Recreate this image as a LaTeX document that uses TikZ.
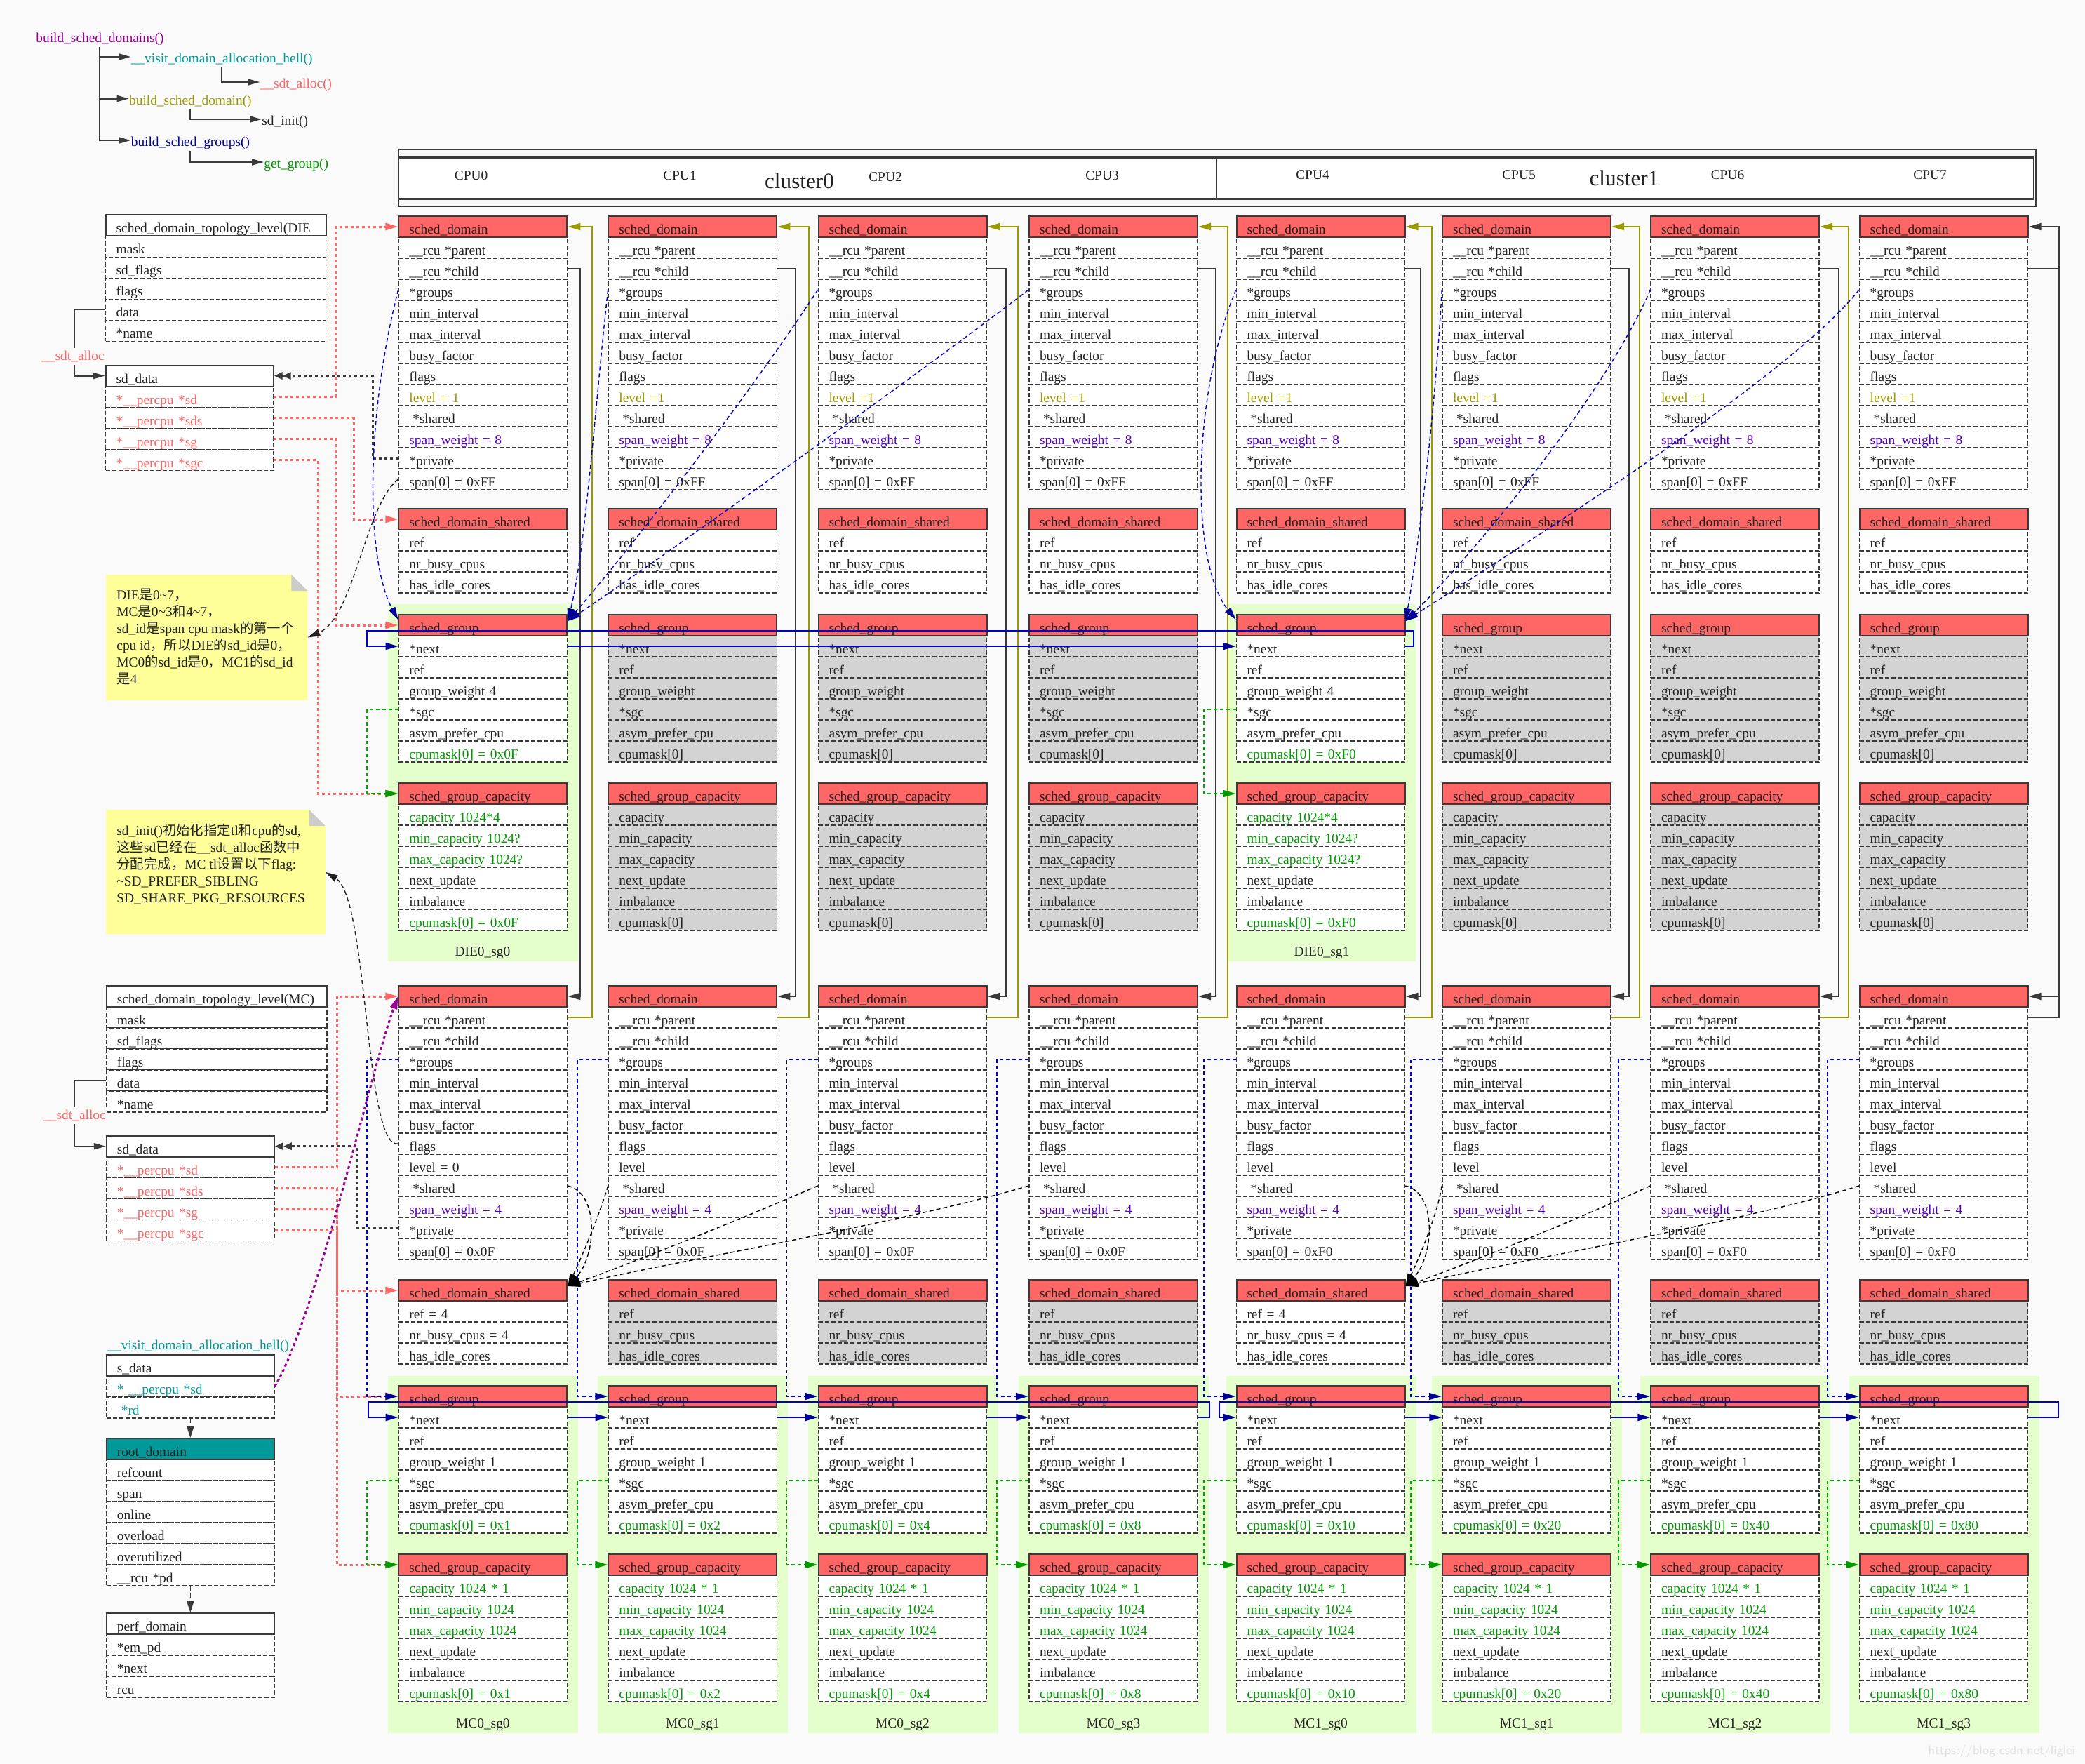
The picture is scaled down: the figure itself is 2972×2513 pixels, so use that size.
\documentclass[tikz,border=0pt]{standalone}
\usepackage{fontspec}
\setmainfont{Liberation Serif}
\newfontfamily\cjk{Noto Sans CJK SC}
\usetikzlibrary{arrows.meta}
\definecolor{bgc}{HTML}{FAFAFA}
\definecolor{hdrc}{HTML}{FF6666}
\definecolor{grayf}{HTML}{D3D3D3}
\definecolor{dk}{HTML}{3A3A3A}
\definecolor{fc}{HTML}{222222}
\definecolor{ol}{HTML}{999900}
\definecolor{pu}{HTML}{5500BB}
\definecolor{gr}{HTML}{009900}
\definecolor{gl}{HTML}{00AA00}
\definecolor{sa}{HTML}{FF6666}
\definecolor{te}{HTML}{009999}
\definecolor{nv}{HTML}{000099}
\definecolor{bl}{HTML}{0000CC}
\definecolor{mg}{HTML}{990099}
\definecolor{lg}{HTML}{E5FFCC}
\definecolor{nt}{HTML}{FFFF99}
\definecolor{fold}{HTML}{CCCCCC}
\newcommand\fs{\fontsize{9.7pt}{12pt}\selectfont}
\newcommand\zh[1]{{\cjk #1}}
\tikzset{
  fld/.style={draw=dk, dash pattern=on 3pt off 1.5pt, line width=0.75pt, minimum height=15pt, inner xsep=7.5pt, inner ysep=0pt, text height=10.6pt, text depth=0pt, align=left, font=\fs},
  hdr/.style={draw=dk, line width=1pt, minimum height=15pt, inner xsep=7.5pt, inner ysep=0pt, text height=10.6pt, text depth=0pt, align=left, font=\fs, text=fc},
  tip/.style={-{Triangle[length=9pt,width=5pt]}},
  tree/.style={draw=dk, line width=1pt, -{Triangle[length=8.5pt,width=4.5pt]}},
  olv/.style={draw=ol, line width=1pt, tip},
  chl/.style={draw=dk, line width=0.9pt, tip},
  reddot/.style={draw=sa, line width=1.5pt, dash pattern=on 2pt off 2pt, tip},
  blkdot/.style={draw=dk, line width=1.5pt, dash pattern=on 2pt off 2pt, -{Triangle[length=6pt,width=5pt]Triangle[length=6pt,width=5pt]}},
  bdash/.style={draw=bl, line width=0.7pt, dash pattern=on 3pt off 2pt, -{Triangle[length=9pt,width=5pt,color=nv]}},
  bdashb/.style={draw=bl, line width=0.9pt, dash pattern=on 2.5pt off 2pt, -{Triangle[length=9pt,width=5pt,color=nv]}},
  gdash/.style={draw=gl, line width=0.9pt, dash pattern=on 2.5pt off 2pt, -{Triangle[length=9pt,width=5pt,color=gr]}},
  bnext/.style={draw=bl, line width=1pt, -{Triangle[length=9pt,width=5pt,color=nv]}},
  ndash/.style={draw=fc, line width=0.7pt, dash pattern=on 3pt off 2pt, tip},
  mdot/.style={draw=mg, line width=1.5pt, dash pattern=on 2pt off 2pt, tip},
  sdash/.style={draw=black, line width=0.7pt, dash pattern=on 3pt off 2pt, tip},
  ddash/.style={draw=dk, line width=0.8pt, dash pattern=on 3pt off 2pt, -{Triangle[length=8pt,width=5pt]}},
}
\newcommand\mkstruct[8]{%
  \pgfmathsetmacro\bw{#4/2}%
  \pgfmathsetmacro\tw{#4/2-15}%
  \pgfmathsetmacro\cx{#2+#4/2}%
  \foreach[count=\kk] \fcol/\ftxt in {#8}{%
    \node[fld,fill=#7,text=\fcol,minimum width=\bw pt,text width=\tw pt] (#1-\kk) at (\cx,#3+15+30*\kk) {\ftxt};
  }%
  \node[hdr,fill=#6,minimum width=\bw pt,text width=\tw pt] (#1-0) at (\cx,#3+15) {#5};
}
\begin{document}
\catcode`\_=12
\begin{tikzpicture}[x=0.5pt,y=-0.5pt,every node/.style={font=\fs}]
\fill[bgc] (0,0) rectangle (2972,2513);
\useasboundingbox (0,0) rectangle (2972,2513);

% ---------- call tree ----------
\node[anchor=west,inner sep=0,text=mg] (t0) at (51,55.4) {build_sched_domains()};
\node[anchor=west,inner sep=0,text=te] (t1) at (186.4,85) {__visit_domain_allocation_hell()};
\node[anchor=west,inner sep=0,text=sa] (t2) at (370.4,121) {__sdt_alloc()};
\node[anchor=west,inner sep=0,text=ol] (t3) at (183.7,144.5) {build_sched_domain()};
\node[anchor=west,inner sep=0,text=fc] (t4) at (373,174) {sd_init()};
\node[anchor=west,inner sep=0,text=nv] (t5) at (186.4,204) {build_sched_groups()};
\node[anchor=west,inner sep=0,text=gr] (t6) at (376,235) {get_group()};
\coordinate (tr) at (142.4,67);
\coordinate (s1) at (316,96.4);
\coordinate (s2) at (271.3,155.8);
\coordinate (s3) at (271.3,215);
\draw[tree] (tr) |- ([yshift=2pt]t1.west);
\draw[tree] (tr) |- ([yshift=2pt]t3.west);
\draw[tree] (tr) |- ([yshift=2pt]t5.west);
\draw[tree] (s1) |- ([yshift=2pt]t2.west);
\draw[tree] (s2) |- ([yshift=2pt]t4.west);
\draw[tree] (s3) |- ([yshift=2pt]t6.west);

% ---------- clusters ----------
\draw[dk,line width=1.3pt] (568,213) rectangle (2902,294);
\draw[dk,line width=1.3pt,fill=white] (568,224.5) rectangle (1734,283.5);
\draw[dk,line width=1.3pt,fill=white] (1734,224.5) rectangle (2899,283.5);
\foreach \i/\x/\y in {0/671.7/250,1/969/250,2/1262/252,3/1571/250,4/1871/249,5/2165/249,6/2462.5/249,7/2751/249}{
  \node[text=fc] (cpu\i) at (\x,\y) {CPU\i};
}
\node[text=fc,font=\fontsize{15.6pt}{18pt}\selectfont] (cl0) at (1139.5,258) {cluster0};
\node[text=fc,font=\fontsize{15.6pt}{18pt}\selectfont] (cl1) at (2315,254) {cluster1};

% ---------- green group backgrounds ----------
\fill[lg] (553,861) rectangle (824,1370);
\fill[lg] (1750,861) rectangle (2018,1370);
\node[text=fc] (dlab0) at (688,1358) {DIE0_sg0};
\node[text=fc] (dlab1) at (1884,1358) {DIE0_sg1};
\foreach \col/\X/\lab in {0/568.4/MC0_sg0,1/867.4/MC0_sg1,2/1166.5/MC0_sg2,3/1467/MC0_sg3,4/1762.5/MC1_sg0,5/2056/MC1_sg1,6/2353/MC1_sg2,7/2650.7/MC1_sg3}{
  \fill[lg] (\X-15,1961) rectangle (\X+256,2470);
  \node[text=fc] (mlab\col) at (\X+120,2458) {\lab};
}

% ---------- per-CPU structures ----------
\foreach \col/\X/\hx in {0/568.4/0x1,1/867.4/0x2,2/1166.5/0x4,3/1467/0x8,4/1762.5/0x10,5/2056/0x20,6/2353/0x40,7/2650.7/0x80}{
  \ifnum\col=0 \def\dlv{level = 1}\def\mlv{level = 0}\else\def\dlv{level =1}\def\mlv{level}\fi
  \ifnum\col<4 \def\msp{0x0F}\else\def\msp{0xF0}\fi
  \pgfmathtruncatemacro\act{(\col==0)||(\col==4)}
  \mkstruct{dsd\col}{\X}{308}{240}{sched_domain}{hdrc}{white}{fc/{__rcu *parent}, fc/{__rcu *child}, fc/{*groups}, fc/{min_interval}, fc/{max_interval}, fc/{busy_factor}, fc/{flags}, ol/{\dlv}, fc/{\hspace*{2.5pt}*shared}, pu/{span_weight = 8}, fc/{*private}, fc/{span[0] = 0xFF}}
  \mkstruct{dsds\col}{\X}{725}{240}{sched_domain_shared}{hdrc}{white}{fc/ref, fc/nr_busy_cpus, fc/has_idle_cores}
  \mkstruct{msd\col}{\X}{1405}{240}{sched_domain}{hdrc}{white}{fc/{__rcu *parent}, fc/{__rcu *child}, fc/{*groups}, fc/{min_interval}, fc/{max_interval}, fc/{busy_factor}, fc/{flags}, fc/{\mlv}, fc/{\hspace*{2.5pt}*shared}, pu/{span_weight = 4}, fc/{*private}, fc/{span[0] = \msp}}
  \ifnum\act=1
    \mkstruct{dsg\col}{\X}{876}{240}{sched_group}{hdrc}{white}{fc/{*next}, fc/ref, fc/{group_weight 4}, fc/{*sgc}, fc/asym_prefer_cpu, gr/{cpumask[0] = \msp}}
    \mkstruct{dsgc\col}{\X}{1116}{240}{sched_group_capacity}{hdrc}{white}{gr/{capacity 1024*4}, gr/{min_capacity 1024?}, gr/{max_capacity 1024?}, fc/next_update, fc/imbalance, gr/{cpumask[0] = \msp}}
    \mkstruct{msds\col}{\X}{1824}{240}{sched_domain_shared}{hdrc}{white}{fc/{ref = 4}, fc/{nr_busy_cpus = 4}, fc/has_idle_cores}
  \else
    \mkstruct{dsg\col}{\X}{876}{240}{sched_group}{hdrc}{grayf}{fc/{*next}, fc/ref, fc/group_weight, fc/{*sgc}, fc/asym_prefer_cpu, fc/{cpumask[0]}}
    \mkstruct{dsgc\col}{\X}{1116}{240}{sched_group_capacity}{hdrc}{grayf}{fc/capacity, fc/min_capacity, fc/max_capacity, fc/next_update, fc/imbalance, fc/{cpumask[0]}}
    \mkstruct{msds\col}{\X}{1824}{240}{sched_domain_shared}{hdrc}{grayf}{fc/ref, fc/nr_busy_cpus, fc/has_idle_cores}
  \fi
  \mkstruct{msg\col}{\X}{1975}{240}{sched_group}{hdrc}{white}{fc/{*next}, fc/ref, fc/{group_weight 1}, fc/{*sgc}, fc/asym_prefer_cpu, gr/{cpumask[0] = \hx}}
  \mkstruct{msgc\col}{\X}{2215}{240}{sched_group_capacity}{hdrc}{white}{gr/{capacity 1024 * 1}, gr/{min_capacity 1024}, gr/{max_capacity 1024}, fc/next_update, fc/imbalance, gr/{cpumask[0] = \hx}}
}

% ---------- left structures ----------
\mkstruct{tlD}{150.7}{306.3}{314}{sched_domain_topology_level(DIE}{white}{white}{fc/mask, fc/sd_flags, fc/flags, fc/data, fc/{*name}}
\mkstruct{sdD}{150.7}{520.6}{239}{sd_data}{white}{white}{sa/{*__percpu *sd}, sa/{*__percpu *sds}, sa/{*__percpu *sg}, sa/{*__percpu *sgc}}
\mkstruct{tlM}{151.8}{1405}{314}{sched_domain_topology_level(MC)}{white}{white}{fc/mask, fc/sd_flags, fc/flags, fc/data, fc/{*name}}
\mkstruct{sdM}{151.8}{1618.7}{239}{sd_data}{white}{white}{sa/{*__percpu *sd}, sa/{*__percpu *sds}, sa/{*__percpu *sg}, sa/{*__percpu *sgc}}
\node[anchor=west,inner sep=0,text=te] (vlab) at (153,1919) {__visit_domain_allocation_hell()};
\mkstruct{sdat}{151.8}{1931}{239}{s_data}{white}{white}{te/{* __percpu *sd}, te/{\hspace*{3pt}*rd}}
\mkstruct{rd}{151.8}{2050}{239}{root_domain}{te}{white}{fc/refcount, fc/span, fc/online, fc/overload, fc/overutilized, fc/{__rcu *pd}}
\mkstruct{pd}{151.8}{2299}{239}{perf_domain}{white}{white}{fc/{*em_pd}, fc/{*next}, fc/rcu}
\draw[ddash] (sdat-2.south) -- (rd-0.north);
\draw[ddash] (rd-6.south) -- (pd-0.north);

% sdt_alloc brackets
\coordinate (xs) at (105.7,0);
\draw[tree] (tlD-4.west) -| (xs |- sdD-0.west) -- (sdD-0.west);
\draw[tree] (tlM-4.west) -| (xs |- sdM-0.west) -- (sdM-0.west);
\node[fill=bgc,text=sa,inner xsep=1pt,inner ysep=2pt] (sa1) at (104,508) {__sdt_alloc};
\node[fill=bgc,text=sa,inner xsep=1pt,inner ysep=2pt] (sa2) at (106,1590) {__sdt_alloc};

% ---------- notes ----------
\node[minimum width=143.1pt,minimum height=89pt,inner sep=0] (note1) at (294.9,908.5) {};
\fill[nt] (note1.south west) -- (note1.north west) -- ([xshift=-11.5pt]note1.north east) -- ([yshift=-11.5pt]note1.north east) -- (note1.south east) -- cycle;
\fill[fold] ([xshift=-11.5pt]note1.north east) -- ([xshift=-11.5pt,yshift=-11.5pt]note1.north east) -- ([yshift=-11.5pt]note1.north east) -- cycle;
\node[anchor=north west,align=left,inner sep=0,text=fc] (note1t) at (166,839) {DIE\zh{是}0\textasciitilde 7\zh{，}\\MC\zh{是}0\textasciitilde 3\zh{和}4\textasciitilde 7\zh{，}\\sd_id\zh{是}span cpu mask\zh{的第一个}\\cpu id\zh{，所以}DIE\zh{的}sd_id\zh{是}0\zh{，}\\MC0\zh{的}sd_id\zh{是}0\zh{，}MC1\zh{的}sd_id\\\zh{是}4};
\node[minimum width=155.8pt,minimum height=88.25pt,inner sep=0] (note2) at (307.6,1242.75) {};
\fill[nt] (note2.south west) -- (note2.north west) -- ([xshift=-11.5pt]note2.north east) -- ([yshift=-11.5pt]note2.north east) -- (note2.south east) -- cycle;
\fill[fold] ([xshift=-11.5pt]note2.north east) -- ([xshift=-11.5pt,yshift=-11.5pt]note2.north east) -- ([yshift=-11.5pt]note2.north east) -- cycle;
\node[anchor=north west,align=left,inner sep=0,text=fc] (note2t) at (166,1174) {sd_init()\zh{初始化指定}tl\zh{和}cpu\zh{的}sd,\\\zh{这些}sd\zh{已经在}__sdt_alloc\zh{函数中}\\\zh{分配完成，}MC tl\zh{设置以下}flag:\\\textasciitilde SD_PREFER_SIBLING\\SD_SHARE_PKG_RESOURCES};

% ---------- parent / child links ----------
\foreach \i/\xo/\xc in {0/844/827,1/1152.7/1133.7,2/1451/1434,3/1750/1732.5,4/2040.7/2024.5,5/2336.8/2322,6/2634.5/2620.7}{
  \coordinate (po\i) at (\xo,0);
  \coordinate (pc\i) at (\xc,0);
  \draw[olv] (msd\i-1.east) -| (po\i |- dsd\i-0.east) -- (dsd\i-0.east);
  \draw[chl] (dsd\i-2.east) -| (pc\i |- msd\i-0.east) -- (msd\i-0.east);
}
\coordinate (pc7) at (2934.6,0);
\draw[chl] (dsd7-2.east) -| (pc7 |- msd7-0.east) -- (msd7-0.east);
\draw[chl] (msd7-1.east) -| (pc7 |- dsd7-0.east) -- (dsd7-0.east);

% ---------- sd_data pointers ----------
\coordinate (xa) at (478.6,0);
\coordinate (xb) at (504,0);
\coordinate (xc) at (453,0);
\coordinate (xm) at (480,0);
\coordinate (xp) at (531,0);
\coordinate (xq) at (509.5,0);
\draw[reddot] (sdD-1.east) -| (xa |- dsd0-0.west) -- (dsd0-0.west);
\draw[reddot] (sdD-2.east) -| (xb |- dsds0-0.west) -- (dsds0-0.west);
\draw[reddot] (sdD-3.east) -| (xa |- dsg0-0.west) -- (dsg0-0.west);
\draw[reddot] (sdD-4.east) -| (xc |- dsgc0-0.west) -- (dsgc0-0.west);
\draw[reddot] (sdM-1.east) -| (xm |- msd0-0.west) -- (msd0-0.west);
\draw[reddot] (sdM-2.east) -| (xm |- msds0-0.west) -- (msds0-0.west);
\draw[reddot] (sdM-3.east) -| (xm |- msg0-0.west) -- (msg0-0.west);
\draw[reddot] (sdM-4.east) -| (xm |- msgc0-0.west) -- (msgc0-0.west);
\draw[blkdot] (dsd0-11.west) -| (xp |- sdD-0.east) -- (sdD-0.east);
\draw[blkdot] (msd0-11.west) -| (xq |- sdM-0.east) -- (sdM-0.east);

% ---------- DIE groups ----------
\draw[bdash] (dsd0-3.west) .. controls (520,600) and (522,800) .. ([yshift=-4pt]dsg0-0.north west);
\draw[bdash] (dsd1-3.west) .. controls (850,560) and (835,780) .. ([yshift=-5pt]dsg0-0.north east);
\draw[bdash] (dsd2-3.west) .. controls (1070,560) and (900,780) .. ([yshift=-5pt]dsg0-0.north east);
\draw[bdash] (dsd3-3.west) .. controls (1300,540) and (950,790) .. ([yshift=-5pt]dsg0-0.north east);
\draw[bdash] (dsd4-3.west) .. controls (1700,560) and (1695,800) .. ([yshift=-4pt]dsg4-0.north west);
\draw[bdash] (dsd5-3.west) .. controls (2045,600) and (2020,790) .. ([yshift=-5pt]dsg4-0.north east);
\draw[bdash] (dsd6-3.west) .. controls (2290,560) and (2100,790) .. ([yshift=-5pt]dsg4-0.north east);
\draw[bdash] (dsd7-3.west) .. controls (2550,540) and (2150,790) .. ([yshift=-5pt]dsg4-0.north east);
\coordinate (gd0) at (523,0);
\coordinate (gd4) at (1716,0);
\draw[gdash] (dsg0-4.west) -| (gd0 |- dsgc0-0.west) -- (dsgc0-0.west);
\draw[gdash] (dsg4-4.west) -| (gd4 |- dsgc4-0.west) -- (dsgc4-0.west);
\coordinate (dnr) at (2015,899);
\coordinate (dnl) at (523,899);
\draw[bnext] (dsg0-1.east) -- (dsg4-1.west);
\draw[bnext] (dsg4-1.east) -| (dnr) -- (dnl) |- (dsg0-1.west);

% ---------- MC groups ----------
\foreach \i/\gx in {0/523,1/822.7,2/1121.5,3/1421,4/1716,5/2010.7,6/2306.8,7/2605}{
  \coordinate (gx\i) at (\gx,0);
  \draw[bdashb] (msd\i-3.west) -| (gx\i |- msg\i-0.west) -- (msg\i-0.west);
  \draw[gdash] (msg\i-4.west) -| (gx\i |- msgc\i-0.west) -- (msgc\i-0.west);
}
\foreach \a/\b in {0/1,1/2,2/3,4/5,5/6,6/7}{
  \draw[bnext] (msg\a-1.east) -- (msg\b-1.west);
}
\coordinate (m0r) at (1724,1998);
\coordinate (m0l) at (525,1998);
\coordinate (m1r) at (2934,1998);
\coordinate (m1l) at (1738,1998);
\draw[bnext] (msg3-1.east) -| (m0r) -- (m0l) |- (msg0-1.west);
\draw[bnext] (msg7-1.east) -| (m1r) -- (m1l) |- (msg4-1.west);

% ---------- MC shared ----------
\draw[sdash] (msd0-9.east) .. controls (855,1700) and (850,1790) .. ([yshift=-5pt]msds0-0.north east);
\draw[sdash] (msd1-9.west) .. controls (855,1730) and (830,1790) .. ([yshift=-5pt]msds0-0.north east);
\draw[sdash] (msd2-9.west) .. controls (1050,1740) and (900,1800) .. ([yshift=-5pt]msds0-0.north east);
\draw[sdash] (msd3-9.west) .. controls (1300,1740) and (950,1800) .. ([yshift=-5pt]msds0-0.north east);
\draw[sdash] (msd4-9.east) .. controls (2049,1700) and (2044,1790) .. ([yshift=-5pt]msds4-0.north east);
\draw[sdash] (msd5-9.west) .. controls (2049,1730) and (2024,1790) .. ([yshift=-5pt]msds4-0.north east);
\draw[sdash] (msd6-9.west) .. controls (2244,1740) and (2094,1800) .. ([yshift=-5pt]msds4-0.north east);
\draw[sdash] (msd7-9.west) .. controls (2494,1740) and (2144,1800) .. ([yshift=-5pt]msds4-0.north east);

% ---------- notes / s_data links ----------
\draw[ndash] (dsd0-12.west) .. controls (520,720) and (505,880) .. (note1.east);
\draw[ndash] (msd0-7.west) .. controls (520,1640) and (525,1280) .. (note2.east);
\draw[mdot] (sdat-1.east) .. controls (450,1880) and (530,1520) .. (msd0-0.west);

\node[text=black!12,font=\sffamily\fontsize{9pt}{10pt}\selectfont,anchor=east] (wm) at (2965,2496) {https://blog.csdn.net/liglei};
\end{tikzpicture}
\end{document}
